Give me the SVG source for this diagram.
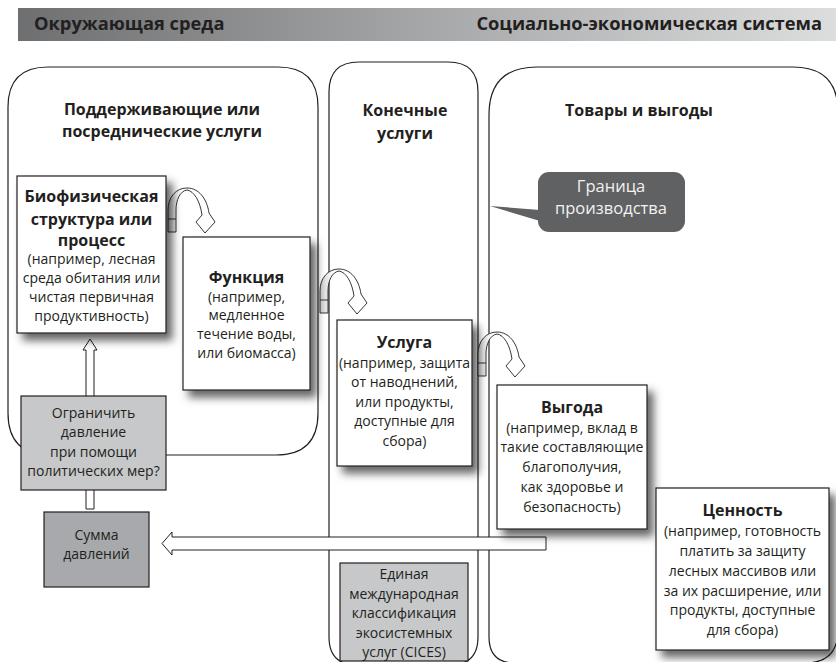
<svg xmlns="http://www.w3.org/2000/svg" width="836" height="662" viewBox="0 0 836 662">
<defs>
<linearGradient id="hdr" x1="0" y1="0" x2="1" y2="0">
<stop offset="0" stop-color="#6e6f71"/>
<stop offset="0.5" stop-color="#a6a7a9"/>
<stop offset="1" stop-color="#dcdddd"/>
</linearGradient>
<linearGradient id="leg" x1="0" y1="0" x2="1" y2="0">
<stop offset="0" stop-color="#d0d0d0"/>
<stop offset="0.3" stop-color="#ffffff"/>
<stop offset="1" stop-color="#ffffff"/>
</linearGradient>
<filter id="sh" x="-20%" y="-20%" width="150%" height="150%">
<feDropShadow dx="6" dy="7" stdDeviation="4" flood-color="#000" flood-opacity="0.6"/>
</filter>
<path id="uturn" d="M0,0 L0,-22 C0,-35 8,-44 19,-44 C31,-44 39,-33 41,-19 L47,-10 L37,1 L28,-10 L34,-17 C32,-31 26,-41 19,-42 C12,-41 8,-32 8,-22 L8,0 Z M0,-13 H8"/>
</defs>
<style>
text{font-family:"Open Sans","Liberation Sans",sans-serif;fill:#231f20;}
.hd{font-size:18.3px;font-weight:700;}
.pt{font-size:16px;font-weight:700;text-anchor:middle;}
.bt{font-size:16px;font-weight:700;text-anchor:middle;}
.tx{font-size:14px;text-anchor:middle;}
.panel{fill:none;stroke:#231f20;stroke-width:1.2;}
.box{fill:#fff;stroke:#231f20;stroke-width:1.2;}
.gbox{fill:#c7c8c9;stroke:#231f20;stroke-width:1.2;}
.dbox{fill:#a7a9ac;stroke:#231f20;stroke-width:1.2;}
.arr{fill:#fff;stroke:#231f20;stroke-width:1;}
.uarr{fill:url(#leg);stroke:#231f20;stroke-width:0.9;}
.bub{fill:#606163;}
.bubt{font-size:16.5px;text-anchor:middle;fill:#f2f2f2;}
</style>

<g id="header">
<rect x="18" y="8" width="818" height="33" fill="url(#hdr)"/>
<text class="hd" x="34" y="30">Окружающая среда</text>
<text class="hd" x="822" y="30" text-anchor="end">Социально-экономическая система</text>
</g>

<g id="panels">
<path id="panel-supporting" class="panel" d="M48,67 H278 Q318,67 318,107 V413 Q318,455 276,455 H50 Q8,455 8,413 V107 Q8,67 48,67 Z"/>
<path id="panel-final" class="panel" d="M359,62 H448 Q478,62 478,92 V637 Q478,665 450,665 H357 Q329,665 329,637 V92 Q329,62 359,62 Z"/>
<path id="panel-goods" class="panel" d="M537,67 H793 Q838,67 838,112 V630 Q838,663 805,663 H515 Q489,663 489,637 V115 Q489,67 537,67 Z"/>
<text class="pt" x="162" y="115">Поддерживающие или</text>
<text class="pt" x="162" y="137">посреднические услуги</text>
<text class="pt" x="405" y="116">Конечные</text>
<text class="pt" x="405" y="139">услуги</text>
<text class="pt" x="639" y="116">Товары и выгоды</text>
</g>

<g id="connectors">
<path id="arrow-to-pressures" class="arr" d="M546,537 H172 V532 L162,543.5 L172,555 V550 H546 Z"/>
<path id="arrow-up" class="arr" d="M86,509 V350 H83 L90,339 L97,350 H94 V509 Z"/>
<use href="#uturn" class="uarr" transform="translate(168,232)"/>
<use href="#uturn" class="uarr" transform="translate(320,313)"/>
<use href="#uturn" class="uarr" transform="translate(478,376)"/>
</g>

<g id="boundary-bubble">
<path class="bub" d="M490,206 L540,210 L540,221 Z"/>
<rect class="bub" x="538" y="172" width="147" height="60" rx="11"/>
<text class="bubt" x="611" y="192">Граница</text>
<text class="bubt" x="611" y="214">производства</text>
</g>

<g id="node-structure">
<rect class="box" x="17" y="176" width="149" height="157" filter="url(#sh)"/>
<text class="bt" x="91.5" y="202">Биофизическая</text>
<text class="bt" x="91.5" y="225">структура или</text>
<text class="bt" x="91.5" y="246">процесс</text>
<text class="tx" x="91.5" y="264">(например, лесная</text>
<text class="tx" x="91.5" y="283">среда обитания или</text>
<text class="tx" x="91.5" y="302">чистая первичная</text>
<text class="tx" x="91.5" y="321">продуктивность)</text>
</g>

<g id="node-function">
<rect class="box" x="183" y="237" width="127" height="153" filter="url(#sh)"/>
<text class="bt" x="246.5" y="283">Функция</text>
<text class="tx" x="246.5" y="302">(например,</text>
<text class="tx" x="246.5" y="320">медленное</text>
<text class="tx" x="246.5" y="339">течение воды,</text>
<text class="tx" x="246.5" y="358">или биомасса)</text>
</g>

<g id="node-service">
<rect class="box" x="337" y="320" width="135" height="146" filter="url(#sh)"/>
<text class="bt" x="404.5" y="348">Услуга</text>
<text class="tx" x="404.5" y="368">(например, защита</text>
<text class="tx" x="404.5" y="387">от наводнений,</text>
<text class="tx" x="404.5" y="407">или продукты,</text>
<text class="tx" x="404.5" y="426">доступные для</text>
<text class="tx" x="404.5" y="446">сбора)</text>
</g>

<g id="node-benefit">
<rect class="box" x="497" y="385" width="150" height="144" filter="url(#sh)"/>
<text class="bt" x="572" y="413">Выгода</text>
<text class="tx" x="572" y="433">(например, вклад в</text>
<text class="tx" x="572" y="452">такие составляющие</text>
<text class="tx" x="572" y="472">благополучия,</text>
<text class="tx" x="572" y="492">как здоровье и</text>
<text class="tx" x="572" y="512">безопасность)</text>
</g>

<g id="node-value">
<rect class="box" x="656" y="488" width="173" height="162" filter="url(#sh)"/>
<text class="bt" x="742.5" y="516">Ценность</text>
<text class="tx" x="742.5" y="536">(например, готовность</text>
<text class="tx" x="742.5" y="556">платить за защиту</text>
<text class="tx" x="742.5" y="576">лесных массивов или</text>
<text class="tx" x="742.5" y="596">за их расширение, или</text>
<text class="tx" x="742.5" y="615">продукты, доступные</text>
<text class="tx" x="742.5" y="635">для сбора)</text>
</g>

<g id="node-policy">
<rect class="gbox" x="21" y="396" width="145" height="94"/>
<text class="tx" x="93.5" y="418">Ограничить</text>
<text class="tx" x="93.5" y="437">давление</text>
<text class="tx" x="93.5" y="457">при помощи</text>
<text class="tx" x="93.5" y="476">политических мер?</text>
</g>

<g id="node-pressures">
<rect class="dbox" x="44" y="512" width="105" height="75"/>
<text class="tx" x="96.5" y="540">Сумма</text>
<text class="tx" x="96.5" y="559">давлений</text>
</g>

<g id="node-cices">
<rect class="gbox" x="340" y="563" width="128" height="98"/>
<text class="tx" x="404" y="579">Единая</text>
<text class="tx" x="404" y="599">международная</text>
<text class="tx" x="404" y="618">классификация</text>
<text class="tx" x="404" y="638">экосистемных</text>
<text class="tx" x="404" y="657">услуг (CICES)</text>
</g>
</svg>
